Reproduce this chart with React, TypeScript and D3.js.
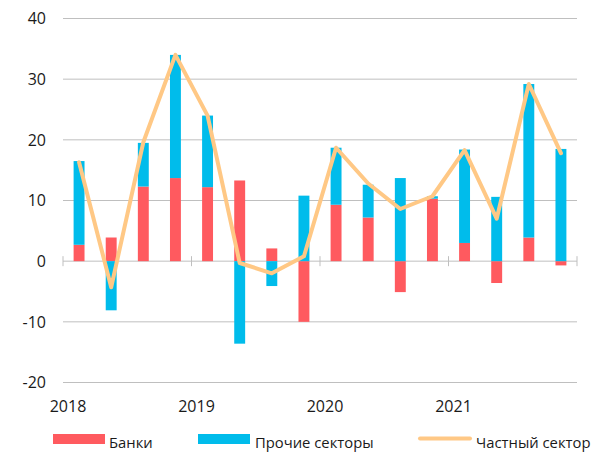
import React from "react";
import * as d3 from "d3";

const quarters = ["2018Q1","2018Q2","2018Q3","2018Q4","2019Q1","2019Q2","2019Q3","2019Q4","2020Q1","2020Q2","2020Q3","2020Q4","2021Q1","2021Q2","2021Q3","2021Q4"];
const banks = [2.7, 3.9, 12.3, 13.7, 12.2, 13.3, 2.1, -10.0, 9.3, 7.2, -5.1, 10.3, 3.0, -3.6, 3.9, -0.7];
const others = [13.8, -8.1, 7.2, 20.3, 11.8, -13.6, -4.1, 10.8, 9.4, 5.4, 13.7, 0.4, 15.4, 10.6, 25.3, 18.5];
const privateSector = [16.3, -4.3, 19.6, 34.0, 24.0, -0.3, -2.0, 0.8, 18.7, 12.8, 8.6, 10.7, 18.3, 7.0, 29.2, 17.8];
const years = ["2018", "2019", "2020", "2021"];
const yTicks = [-20, -10, 0, 10, 20, 30, 40];

const RED = "#FF5A5F";
const BLUE = "#00BCEB";
const ORANGE = "#FFC885";
const FONT = "'Open Sans', Lato, sans-serif";

export default function App() {
  const W = 597, H = 452;
  const left = 63, right = 577, top = 18.5, bottom = 382.5;
  const x = d3.scaleBand().domain(quarters).range([left, right]).paddingInner(0.66).paddingOuter(0.33);
  const xs = d3.scaleBand().domain(quarters).range([left, right]);
  const y = d3.scaleLinear().domain([-20, 40]).range([bottom, top]);
  const bw = x.bandwidth();

  const segs: any[] = [];
  quarters.forEach((q, i) => {
    let pos = 0, neg = 0;
    [[banks[i], RED], [others[i], BLUE]].forEach(([v, c]: any) => {
      let y0, y1;
      if (v >= 0) { y0 = pos; y1 = pos + v; pos = y1; }
      else { y0 = neg; y1 = neg + v; neg = y1; }
      segs.push({ q, y0, y1, c });
    });
  });

  const line = d3.line<number>()
    .x((_, i) => (xs(quarters[i]) as number) + xs.bandwidth() / 2)
    .y((d) => y(d));

  const yearTicks = [0, 4, 8, 12, 16].map((k) => left + k * xs.step());

  return (
    <svg width={W} height={H} style={{ position: "absolute", left: 0, top: 0 }} fontFamily={FONT}>
      <rect width={W} height={H} fill="#fff" />
      {yTicks.map((t) => (
        <g key={t}>
          <line x1={left} x2={right} y1={y(t)} y2={y(t)} stroke="#BFBFBF" strokeWidth={1} />
          <text x={46} y={y(t)} dy="0.36em" textAnchor="end" fontSize={16} fill="#1a1a1a">{t}</text>
        </g>
      ))}
      {yearTicks.map((tx, i) => (
        <line key={i} x1={tx} x2={tx} y1={y(0) - 5} y2={y(0) + 5} stroke="#BFBFBF" />
      ))}
      {segs.map((s, i) => (
        <rect key={i} x={x(s.q)} width={bw} y={y(Math.max(s.y0, s.y1))} height={Math.abs(y(s.y0) - y(s.y1))} fill={s.c} />
      ))}
      <path d={line(privateSector) as string} fill="none" stroke={ORANGE} strokeWidth={4} strokeLinejoin="round" strokeLinecap="round" />
      {years.map((yr, i) => (
        <text key={yr} x={yearTicks[i] + 5} y={412} textAnchor="middle" fontSize={16} fill="#1a1a1a">{yr}</text>
      ))}
      <g fontSize={14.8} fill="#1a1a1a">
        <rect x={53} y={434} width={52} height={10} fill={RED} />
        <text x={109} y={448} fill="#1a1a1a">Банки</text>
        <rect x={198} y={434} width={52} height={10} fill={BLUE} />
        <text x={255} y={448} fill="#1a1a1a">Прочие секторы</text>
        <line x1={420} x2={470} y1={438.5} y2={438.5} stroke={ORANGE} strokeWidth={4} strokeLinecap="round" />
        <text x={476} y={448} fill="#1a1a1a">Частный сектор</text>
      </g>
    </svg>
  );
}
